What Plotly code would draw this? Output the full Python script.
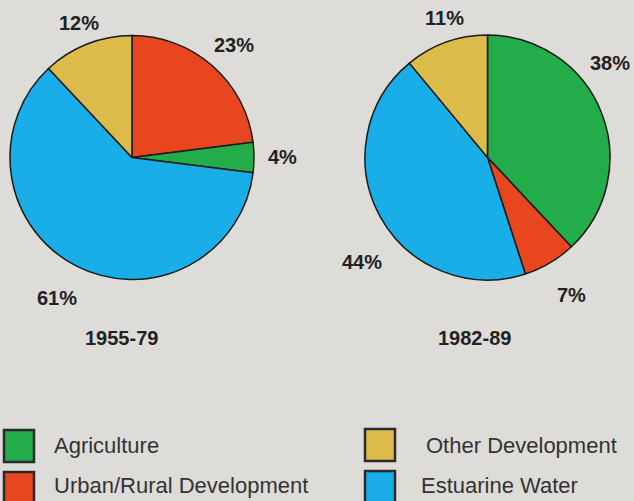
import plotly.graph_objects as go

categories = ["Agriculture", "Urban/Rural Development", "Estuarine Water", "Other Development"]
colors = ["#23ad4a", "#e8461e", "#19aee8", "#dcbb4a"]

# 1955-79 (clockwise from 12 o'clock: Urban, Agriculture, Water, Other)
labels_1 = ["Urban/Rural Development", "Agriculture", "Estuarine Water", "Other Development"]
values_1 = [23, 4, 61, 12]
# 1982-89 (clockwise from 12 o'clock: Agriculture, Urban, Water, Other)
labels_2 = ["Agriculture", "Urban/Rural Development", "Estuarine Water", "Other Development"]
values_2 = [38, 7, 44, 11]

titles = ["1955-79", "1982-89"]

W, H = 634, 501
cmap = dict(zip(categories, colors))

def px(x):
    return x / W

def py(y):
    return 1 - y / H

fig = go.Figure()
fig.add_trace(go.Pie(
    labels=labels_1, values=values_1, sort=False, direction="clockwise", rotation=0,
    marker=dict(colors=[cmap[l] for l in labels_1], line=dict(color="#1a1a1a", width=1.5)),
    textinfo="none", hoverinfo="label+percent", showlegend=False,
    domain=dict(x=[px(10), px(254)], y=[py(280), py(35)]),
))
fig.add_trace(go.Pie(
    labels=labels_2, values=values_2, sort=False, direction="clockwise", rotation=0,
    marker=dict(colors=[cmap[l] for l in labels_2], line=dict(color="#1a1a1a", width=1.5)),
    textinfo="none", hoverinfo="label+percent", showlegend=False,
    domain=dict(x=[px(365), px(610)], y=[py(280), py(35)]),
))

pct_font = dict(family="Liberation Sans, Arial, sans-serif", size=20, color="#222222")
# label positions (pixel centres) for each slice
pos_1 = [(234, 45), (282, 157), (57, 298), (79, 23)]
pos_2 = [(610, 63), (571, 295), (362, 262), (444, 18)]
annotations = []
for vals, pos in ((values_1, pos_1), (values_2, pos_2)):
    for v, (x, y) in zip(vals, pos):
        annotations.append(dict(x=px(x), y=py(y), xref="paper", yref="paper",
                                text="<b>%d%%</b>" % v, showarrow=False,
                                xanchor="center", yanchor="middle", font=pct_font))
for t, x in zip(titles, (121, 474)):
    annotations.append(dict(x=px(x), y=py(338), xref="paper", yref="paper",
                            text="<b>%s</b>" % t, showarrow=False,
                            xanchor="center", yanchor="middle", font=pct_font))

# legend (drawn manually to match layout)
leg_font = dict(family="Liberation Sans, Arial, sans-serif", size=22, color="#333333")
legend_items = [
    ("Agriculture", 4, 430, 52, 445),
    ("Urban/Rural Development", 4, 472, 52, 485),
    ("Other Development", 365, 429, 424, 445),
    ("Estuarine Water", 365, 471, 419, 485),
]
shapes = []
for name, sx, sy, tx, ty in legend_items:
    shapes.append(dict(type="rect", xref="paper", yref="paper",
                       x0=px(sx), x1=px(sx + 30), y0=py(sy + 32), y1=py(sy),
                       fillcolor=cmap[name], line=dict(color="#2a2a2a", width=2.5)))
    annotations.append(dict(x=px(tx), y=py(ty), xref="paper", yref="paper",
                            text=name, showarrow=False, xanchor="left", yanchor="middle",
                            font=leg_font))

fig.update_layout(
    width=W, height=H, margin=dict(l=0, r=0, t=0, b=0),
    paper_bgcolor="#dedcd8", plot_bgcolor="#dedcd8",
    annotations=annotations, shapes=shapes,
)
fig.write_html("out.html")
